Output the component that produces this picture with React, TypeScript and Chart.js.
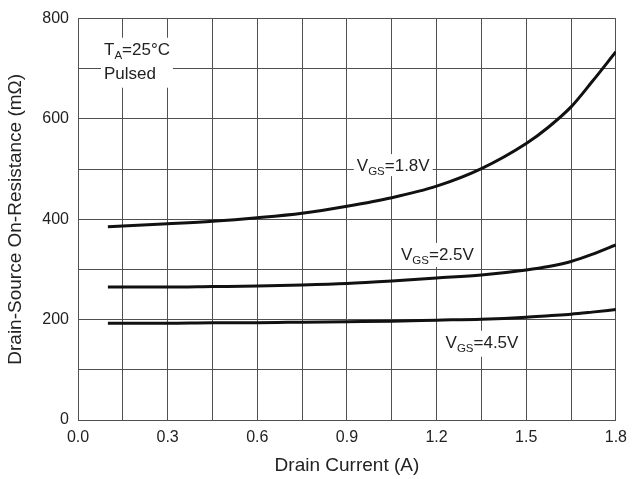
import React, { useEffect, useRef } from "react";
import { Chart, registerables } from "chart.js";

Chart.register(...registerables);

const currentA = [0.1, 0.3, 0.45, 0.6, 0.75, 0.9, 1.05, 1.2, 1.35, 1.5, 1.575, 1.65, 1.72, 1.8];
const vgs18 = [385, 391, 396, 403, 412, 426, 443, 466, 501, 551, 584, 624, 674, 734];
const vgs25 = [265, 265, 266, 267, 269, 272, 277, 283, 289, 299, 306, 316, 330, 349];
const vgs45 = [193, 193, 194, 194, 195, 196, 197, 199, 201, 205, 208, 211, 215, 220];

const xTicksLabelStep = 0.3;
const yTicksLabelStep = 200;

// annotation texts: main, subscript, rest, x (A), baseline y (mΩ)
const annotations: { main: string; sub: string; rest: string; x: number; y: number; h: number }[] = [
  { main: "T", sub: "A", rest: "=25°C", x: 0.087, y: 728, h: 50 },
  { main: "Pulsed", sub: "", rest: "", x: 0.087, y: 679, h: 20 },
  { main: "V", sub: "GS", rest: "=1.8V", x: 0.933, y: 496, h: 22 },
  { main: "V", sub: "GS", rest: "=2.5V", x: 1.081, y: 319, h: 24 },
  { main: "V", sub: "GS", rest: "=4.5V", x: 1.23, y: 144, h: 26 },
];

const FONT = "'Liberation Sans', Arial, sans-serif";

export default function App() {
  const ref = useRef<HTMLCanvasElement | null>(null);
  useEffect(() => {
    document.body.style.margin = "0";
    const canvas = ref.current!;
    const labelPlugin = {
      id: "labels",
      afterDatasetsDraw(chart: any) {
        const ctx = chart.ctx;
        const xs = chart.scales.x;
        const ys = chart.scales.y;
        ctx.save();
        annotations.forEach((a) => {
          const px = xs.getPixelForValue(a.x);
          const py = ys.getPixelForValue(a.y);
          ctx.font = `17px ${FONT}`;
          const w1 = ctx.measureText(a.main).width;
          ctx.font = `11.5px ${FONT}`;
          const w2 = ctx.measureText(a.sub).width;
          ctx.font = `17px ${FONT}`;
          const w3 = ctx.measureText(a.rest).width;
          const total = w1 + w2 + w3;
          ctx.fillStyle = "#ffffff";
          ctx.fillRect(px - 3, py - 17, total + 6, a.h);
          ctx.fillStyle = "#222";
          ctx.textBaseline = "alphabetic";
          ctx.textAlign = "left";
          ctx.font = `17px ${FONT}`;
          ctx.fillText(a.main, px, py);
          ctx.font = `11.5px ${FONT}`;
          ctx.fillText(a.sub, px + w1, py + 4);
          ctx.font = `17px ${FONT}`;
          ctx.fillText(a.rest, px + w1 + w2, py);
        });
        ctx.restore();
      },
    };
    const mk = (vals: number[]) => ({
      data: currentA.map((x, i) => ({ x, y: vals[i] })),
      borderColor: "#111",
      borderWidth: 3,
      pointRadius: 0,
      cubicInterpolationMode: "monotone" as const,
      fill: false,
    });
    const chart = new Chart(canvas, {
      type: "line",
      data: { datasets: [mk(vgs18), mk(vgs25), mk(vgs45)] },
      plugins: [labelPlugin],
      options: {
        animation: false,
        responsive: false,
        layout: { padding: { top: 13, right: 13, left: 0, bottom: 0 } },
        plugins: { legend: { display: false }, tooltip: { enabled: false } },
        scales: {
          x: {
            type: "linear",
            min: 0,
            max: 1.8,
            title: { display: true, text: "Drain Current (A)", font: { family: FONT, size: 19 }, color: "#222", padding: { top: 0, bottom: 2 } },
            ticks: {
              stepSize: 0.15,
              autoSkip: false,
              maxRotation: 0,
              padding: 8,
              color: "#222",
              font: { family: FONT, size: 16 },
              callback: (v: any) => {
                const r = Math.round(v * 100) / 100;
                const k = Math.round((r / xTicksLabelStep) * 1000) / 1000;
                return Number.isInteger(k) ? r.toFixed(1) : "";
              },
            },
            grid: { color: "#505050", lineWidth: 1, drawTicks: false },
            border: { color: "#505050", width: 1 },
            afterFit: (s: any) => { s.height = 59; },
          },
          y: {
            type: "linear",
            min: 0,
            max: 800,
            title: { display: true, text: "Drain-Source On-Resistance (mΩ)", font: { family: FONT, size: 19 }, color: "#222", padding: { top: 4, bottom: 0 } },
            ticks: {
              stepSize: 100,
              autoSkip: false,
              padding: 9,
              color: "#222",
              font: { family: FONT, size: 16 },
              callback: (v: any) => (Math.round(v) % yTicksLabelStep === 0 ? String(Math.round(v)) : ""),
            },
            grid: { color: "#505050", lineWidth: 1, drawTicks: false },
            border: { color: "#505050", width: 1 },
            afterFit: (s: any) => { s.width = 78; },
          },
        },
      },
    });
    return () => chart.destroy();
  }, []);
  return (
    <div style={{ width: 635, height: 479 }}>
      <canvas ref={ref} width={635} height={479} />
    </div>
  );
}
